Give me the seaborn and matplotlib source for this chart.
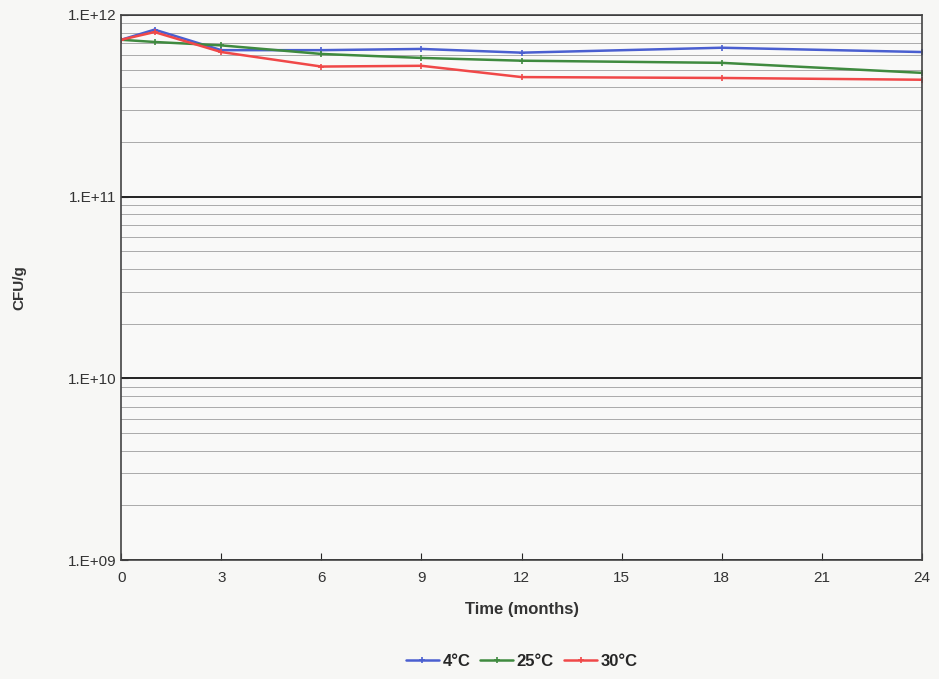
import matplotlib
matplotlib.use("Agg")
import matplotlib.pyplot as plt
import matplotlib.ticker as mticker
import seaborn as sns
import pandas as pd
import numpy as np

time = [0, 1, 3, 6, 9, 12, 18, 24]
cfu_4c = [7.3e11, 8.3e11, 6.4e11, 6.4e11, 6.5e11, 6.2e11, 6.6e11, 6.25e11]
cfu_25c = [7.3e11, 7.1e11, 6.8e11, 6.1e11, 5.8e11, 5.6e11, 5.45e11, 4.8e11]
cfu_30c = [7.3e11, 8.05e11, 6.25e11, 5.2e11, 5.25e11, 4.55e11, 4.5e11, 4.4e11]
series_names = ["4°C", "25°C", "30°C"]
colors = ["#4a5fd0", "#3f8a3f", "#f04848"]
xticks = [0, 3, 6, 9, 12, 15, 18, 21, 24]

df = pd.DataFrame({
    "Time": time * 3,
    "CFU": cfu_4c + cfu_25c + cfu_30c,
    "Series": sum([[n] * len(time) for n in series_names], []),
})

sns.set_style("white")
plt.rcParams["font.family"] = ["Liberation Sans", "DejaVu Sans"]

fig = plt.figure(figsize=(9.39, 6.79), dpi=100)
fig.patch.set_facecolor("#f7f7f5")
ax = fig.add_axes([0.129, 0.175, 0.853, 0.803])
ax.set_facecolor("#f9f9f8")

sns.lineplot(data=df, x="Time", y="CFU", hue="Series", palette=colors,
             marker="+", markersize=5, markeredgewidth=1.2, linewidth=1.8,
             ax=ax, legend=True)
for ln in ax.lines:
    ln.set_markeredgecolor(ln.get_color())

ax.set_yscale("log")
ax.set_ylim(1e9, 1e12)
ax.set_xlim(0, 24)
ax.set_xticks(xticks)
ax.set_xticklabels([str(t) for t in xticks], fontsize=11, color="#333333")
ax.yaxis.set_major_locator(mticker.LogLocator(base=10, numticks=10))
ax.yaxis.set_minor_locator(mticker.LogLocator(base=10, subs=np.arange(2, 10), numticks=20))
ax.yaxis.set_major_formatter(mticker.FuncFormatter(lambda v, p: "1.E+%02d" % int(round(np.log10(v)))))
ax.yaxis.set_minor_formatter(mticker.NullFormatter())
ax.tick_params(axis="y", which="major", labelsize=11, labelcolor="#333333", length=5, direction="in", left=True)
ax.tick_params(axis="y", which="minor", length=0)
ax.tick_params(axis="x", which="major", length=5, direction="in", bottom=True, pad=8)

ax.grid(True, which="major", axis="y", color="#222222", linewidth=1.4)
ax.grid(True, which="minor", axis="y", color="#aaaaaa", linewidth=0.7)
ax.set_axisbelow(True)
for s in ax.spines.values():
    s.set_color("#444444")
    s.set_linewidth(1.2)

ax.set_xlabel("Time (months)", fontsize=12, fontweight="bold", color="#333333", labelpad=12)
ax.set_ylabel("CFU/g", fontsize=11, fontweight="bold", color="#333333", labelpad=30)

h, l = ax.get_legend_handles_labels()
for hh in h:
    hh.set_markeredgecolor(hh.get_color())
ax.legend(h, l, loc="center", bbox_to_anchor=(0.5, -0.185), ncol=3, frameon=False,
          handlelength=2.0, columnspacing=0.6, handletextpad=0.2,
          prop={"weight": "bold", "size": 12})

fig.savefig("out.png", dpi=100, facecolor=fig.get_facecolor())
